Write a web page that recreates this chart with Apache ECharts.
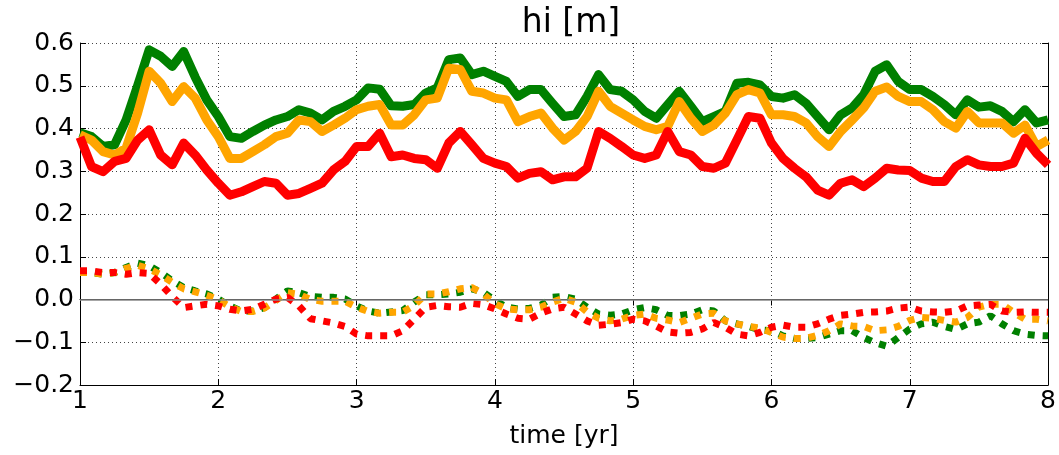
<!DOCTYPE html>
<html>
<head>
<meta charset="utf-8">
<script src="https://cdn.jsdelivr.net/npm/echarts@6/dist/echarts.min.js"></script>
<style>
  html, body { margin: 0; padding: 0; background: #fff; }
  #chart { width: 1059px; height: 455px; }
</style>
</head>
<body>
<div id="chart"></div>
<script>
// monthly samples from year 1 to year 8 (85 points)
const startYear = 1;
const monthsPerYear = 12;

const greenSolid = [0.39, 0.381, 0.358, 0.362, 0.42, 0.50, 0.584, 0.569, 0.545, 0.58, 0.52, 0.467,
  0.428, 0.381, 0.377, 0.393, 0.408, 0.42, 0.428, 0.444, 0.436, 0.42, 0.44, 0.452,
  0.467, 0.495, 0.492, 0.453, 0.452, 0.456, 0.483, 0.495, 0.561, 0.565, 0.526, 0.534,
  0.522, 0.51, 0.475, 0.491, 0.491, 0.459, 0.428, 0.432, 0.475, 0.526, 0.491, 0.487,
  0.467, 0.44, 0.424, 0.456, 0.487, 0.452, 0.416, 0.428, 0.44, 0.506, 0.508, 0.502,
  0.475, 0.471, 0.479, 0.459, 0.428, 0.397, 0.432, 0.448, 0.479, 0.534, 0.549, 0.51,
  0.491, 0.491, 0.475, 0.456, 0.432, 0.467, 0.45, 0.453, 0.44, 0.416, 0.444, 0.413, 0.42];

const orangeSolid = [0.385, 0.373, 0.346, 0.338, 0.354, 0.436, 0.534, 0.506, 0.463, 0.498, 0.471, 0.42,
  0.381, 0.33, 0.33, 0.346, 0.362, 0.381, 0.389, 0.42, 0.416, 0.393, 0.408, 0.424,
  0.444, 0.452, 0.456, 0.408, 0.408, 0.432, 0.467, 0.471, 0.541, 0.538, 0.487, 0.483,
  0.471, 0.467, 0.416, 0.428, 0.436, 0.401, 0.373, 0.393, 0.428, 0.487, 0.452, 0.436,
  0.42, 0.405, 0.397, 0.405, 0.463, 0.424, 0.393, 0.408, 0.436, 0.479, 0.491, 0.483,
  0.432, 0.432, 0.428, 0.413, 0.381, 0.358, 0.393, 0.42, 0.448, 0.487, 0.497, 0.475,
  0.463, 0.463, 0.444, 0.416, 0.401, 0.44, 0.413, 0.413, 0.413, 0.389, 0.408, 0.358, 0.373];

const redSolid = [0.38, 0.311, 0.299, 0.323, 0.33, 0.373, 0.397, 0.338, 0.315, 0.366, 0.338, 0.303,
  0.272, 0.244, 0.252, 0.264, 0.276, 0.272, 0.244, 0.248, 0.26, 0.272, 0.303, 0.323,
  0.358, 0.358, 0.389, 0.334, 0.338, 0.33, 0.327, 0.307, 0.366, 0.393, 0.362, 0.33,
  0.319, 0.311, 0.284, 0.295, 0.299, 0.28, 0.287, 0.287, 0.307, 0.393, 0.377, 0.358,
  0.338, 0.33, 0.338, 0.393, 0.346, 0.338, 0.311, 0.307, 0.319, 0.373, 0.428, 0.424,
  0.366, 0.33, 0.307, 0.287, 0.256, 0.244, 0.272, 0.28, 0.264, 0.284, 0.307, 0.303,
  0.302, 0.284, 0.276, 0.276, 0.311, 0.327, 0.315, 0.311, 0.311, 0.319, 0.377, 0.342, 0.315];

const greenDotted = [0.063, 0.063, 0.059, 0.063, 0.075, 0.085, 0.079, 0.063, 0.044, 0.028, 0.02, 0.013,
  0.001, -0.015, -0.027, -0.027, -0.019, 0.001, 0.02, 0.016, 0.007, 0.005, 0.005, 0.001,
  -0.015, -0.027, -0.032, -0.029, -0.026, -0.006, 0.011, 0.011, 0.013, 0.017, 0.025, 0.017,
  -0.002, -0.018, -0.022, -0.021, -0.013, 0.005, 0.007, 0.001, -0.018, -0.034, -0.037, -0.034,
  -0.024, -0.019, -0.024, -0.037, -0.038, -0.034, -0.024, -0.027, -0.05, -0.057, -0.063, -0.071,
  -0.073, -0.085, -0.091, -0.091, -0.089, -0.081, -0.073, -0.073, -0.089, -0.101, -0.109, -0.089,
  -0.069, -0.057, -0.053, -0.063, -0.07, -0.057, -0.053, -0.038, -0.057, -0.073, -0.081, -0.084, -0.085];

const orangeDotted = [0.063, 0.063, 0.059, 0.063, 0.073, 0.08, 0.072, 0.058, 0.04, 0.025, 0.018, 0.01,
  0.0, -0.017, -0.028, -0.028, -0.02, -0.002, 0.016, 0.012, 0.0, -0.004, -0.004, -0.004,
  -0.018, -0.028, -0.032, -0.03, -0.03, -0.014, 0.013, 0.013, 0.018, 0.025, 0.028, 0.013,
  -0.01, -0.022, -0.024, -0.024, -0.018, -0.006, 0.003, -0.006, -0.029, -0.044, -0.05, -0.046,
  -0.037, -0.034, -0.044, -0.048, -0.054, -0.044, -0.034, -0.032, -0.05, -0.057, -0.063, -0.067,
  -0.077, -0.088, -0.091, -0.091, -0.084, -0.073, -0.057, -0.062, -0.063, -0.073, -0.071, -0.063,
  -0.049, -0.042, -0.044, -0.049, -0.053, -0.042, -0.018, -0.011, -0.011, -0.03, -0.046, -0.046, -0.05];

const redDotted = [0.067, 0.067, 0.063, 0.063, 0.059, 0.063, 0.061, 0.036, 0.007, -0.019, -0.015, -0.011,
  -0.015, -0.023, -0.027, -0.023, -0.011, 0.001, 0.005, -0.015, -0.045, -0.05, -0.055, -0.063,
  -0.081, -0.085, -0.085, -0.085, -0.073, -0.046, -0.018, -0.014, -0.017, -0.018, -0.009, -0.012,
  -0.022, -0.034, -0.044, -0.046, -0.032, -0.022, -0.018, -0.034, -0.05, -0.06, -0.058, -0.054,
  -0.046, -0.05, -0.062, -0.076, -0.079, -0.077, -0.069, -0.054, -0.065, -0.081, -0.085, -0.077,
  -0.065, -0.06, -0.065, -0.065, -0.057, -0.046, -0.037, -0.034, -0.03, -0.029, -0.027, -0.02,
  -0.018, -0.027, -0.029, -0.03, -0.027, -0.015, -0.013, -0.011, -0.027, -0.03, -0.029, -0.03, -0.03];

const xTicks = [1, 2, 3, 4, 5, 6, 7, 8];
const yTicks = [-0.2, -0.1, 0.0, 0.1, 0.2, 0.3, 0.4, 0.5, 0.6];

const toPairs = arr => arr.map((v, i) => [startYear + i / monthsPerYear, v]);

const font = 'DejaVu Sans';
const chart = echarts.init(document.getElementById('chart'));

function solid(name, color, data) {
    return {
        name, type: 'line', data: toPairs(data), symbol: 'none',
        lineStyle: { color, width: 9, join: 'round', cap: 'butt' },
        animation: false
    };
}
function dotted(name, color, data) {
    return {
        name, type: 'line', data: toPairs(data), symbol: 'none',
        lineStyle: { color, width: 7, type: [7, 8], cap: 'butt' },
        animation: false
    };
}

const fmtY = v => (v < 0 ? '\u2212' : '') + Math.abs(v).toFixed(1);

const option = {
    backgroundColor: '#fff',
    title: {
        text: 'hi [m]', left: 566, top: 2, textAlign: 'center',
        textStyle: { fontFamily: font, fontSize: 33, fontWeight: 'normal', color: '#000' }
    },
    grid: { left: 80, right: 8, top: 43, bottom: 70 },
    xAxis: [{
        type: 'value', min: xTicks[0], max: xTicks[xTicks.length - 1], interval: 1,
        name: 'time [yr]', nameLocation: 'middle', nameGap: 39,
        nameTextStyle: { fontFamily: font, fontSize: 25, color: '#000' },
        axisLine: { onZero: false, lineStyle: { color: '#000', width: 1 } },
        axisTick: { inside: true, length: 6, lineStyle: { color: '#000' } },
        axisLabel: { fontFamily: font, fontSize: 25, color: '#000', margin: 4 },
        splitLine: { show: true, lineStyle: { color: '#444', type: [1, 3], width: 1 } }
    }, {
        type: 'value', position: 'top', min: 1, max: 8, interval: 1,
        axisLine: { show: true, lineStyle: { color: '#000' } },
        axisTick: { show: true, inside: true, length: 6, lineStyle: { color: '#000' } },
        axisLabel: { show: false }, splitLine: { show: false }
    }],
    yAxis: [{
        type: 'value', min: yTicks[0], max: yTicks[yTicks.length - 1], interval: 0.1,
        axisLine: { show: true, onZero: false, lineStyle: { color: '#000', width: 1 } },
        axisTick: { show: true, inside: true, length: 6, lineStyle: { color: '#000' } },
        axisLabel: { fontFamily: font, fontSize: 25, color: '#000', margin: 6, formatter: fmtY },
        splitLine: { show: true, lineStyle: { color: '#444', type: [1, 3], width: 1 } }
    }, {
        type: 'value', position: 'right', min: -0.2, max: 0.6, interval: 0.1,
        axisLine: { show: true, lineStyle: { color: '#000' } },
        axisTick: { show: true, inside: true, length: 6, lineStyle: { color: '#000' } },
        axisLabel: { show: false }, splitLine: { show: false }
    }],
    series: [
        {
            type: 'line', data: [], silent: true,
            markLine: {
                silent: true, symbol: 'none', label: { show: false },
                lineStyle: { color: '#888', type: 'solid', width: 1.5 },
                data: [{ yAxis: 0 }]
            },
            animation: false
        },
        dotted('green dotted', '#008000', greenDotted),
        dotted('orange dotted', '#ffa500', orangeDotted),
        dotted('red dotted', '#ff0000', redDotted),
        solid('green', '#008000', greenSolid),
        solid('orange', '#ffa500', orangeSolid),
        solid('red', '#ff0000', redSolid)
    ]
};
option && chart.setOption(option);
</script>
</body>
</html>
